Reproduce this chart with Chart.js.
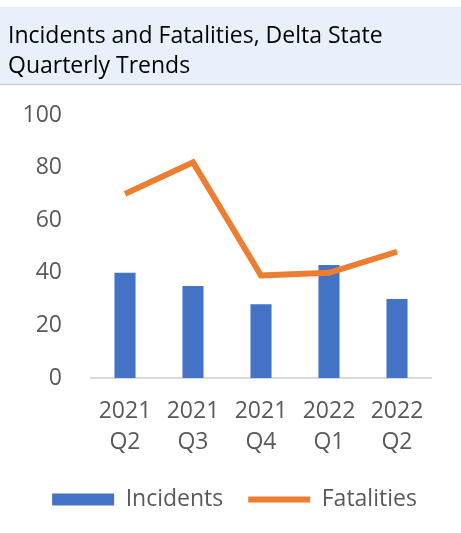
<!DOCTYPE html>
<html>
<head>
<meta charset="utf-8">
<script src="https://cdn.jsdelivr.net/npm/chart.js@4.4.1/dist/chart.umd.min.js"></script>
<style>
  html, body { margin: 0; padding: 0; background: #ffffff; }
  #wrap { position: relative; width: 461px; height: 533px; }
</style>
</head>
<body>
<div id="wrap"><canvas id="chart"></canvas></div>
<script>
// Quarterly incidents and fatalities, Delta State
const quarters = [['2021', 'Q2'], ['2021', 'Q3'], ['2021', 'Q4'], ['2022', 'Q1'], ['2022', 'Q2']];
const incidents = [40, 35, 28, 43, 30];
const fatalities = [70, 82, 39, 40, 48];
const titleLines = ['Incidents and Fatalities, Delta State', 'Quarterly Trends'];
const yTicks = { min: 0, max: 100, step: 20 };

const BLUE = '#4472C4';
const ORANGE = '#ED7D31';
const GREY_TEXT = '#595959';
const TICK_FONT = { family: '"Open Sans", sans-serif', size: 23, lineHeight: 1.35 };

// Light header band drawn behind the title
const headerBand = {
  id: 'headerBand',
  beforeDraw(chart) {
    const ctx = chart.ctx;
    ctx.save();
    ctx.fillStyle = '#E8F1FB';
    ctx.fillRect(0, 7, chart.width, 77);
    ctx.strokeStyle = '#D0D0D0';
    ctx.lineWidth = 1.5;
    ctx.beginPath();
    ctx.moveTo(0, 84.5);
    ctx.lineTo(chart.width, 84.5);
    ctx.stroke();
    ctx.restore();
  }
};

new Chart(document.getElementById('chart'), {
  data: {
    labels: quarters,
    datasets: [
      {
        type: 'bar',
        label: 'Incidents',
        data: incidents,
        backgroundColor: BLUE,
        borderColor: BLUE,
        borderWidth: 0,
        categoryPercentage: 1,
        barPercentage: 0.31,
        order: 2
      },
      {
        type: 'line',
        label: 'Fatalities',
        data: fatalities,
        borderColor: ORANGE,
        backgroundColor: ORANGE,
        borderWidth: 6,
        pointRadius: 0,
        tension: 0,
        borderCapStyle: 'butt',
        order: 1
      }
    ]
  },
  options: {
    responsive: true,
    maintainAspectRatio: false,
    animation: false,
    layout: { padding: { left: 8, right: 0, top: 0, bottom: 12 } },
    scales: {
      x: {
        grid: { display: false, drawTicks: false },
        border: { display: true, color: '#D9D9D9', width: 2 },
        ticks: { color: GREY_TEXT, font: TICK_FONT, padding: 18, maxRotation: 0, autoSkip: false },
        afterFit(scale) { scale.height = 85; }
      },
      y: {
        min: yTicks.min,
        max: yTicks.max,
        grid: { display: false, drawTicks: false },
        border: { display: false },
        ticks: { stepSize: yTicks.step, color: GREY_TEXT, font: TICK_FONT, padding: 29 },
        afterFit(scale) { scale.width = 83; }
      },
      yRight: {
        position: 'right',
        display: true,
        grid: { display: false, drawTicks: false },
        border: { display: false },
        ticks: { display: false },
        afterFit(scale) { scale.width = 30; }
      }
    },
    plugins: {
      title: {
        display: true,
        text: titleLines,
        align: 'start',
        color: '#000000',
        font: { family: '"Open Sans", sans-serif', size: 23, weight: 'normal', lineHeight: 1.304 },
        padding: { top: 21, bottom: 34 }
      },
      legend: {
        position: 'bottom',
        labels: {
          usePointStyle: true,
          pointStyleWidth: 62,
          boxHeight: 12,
          padding: 25,
          color: GREY_TEXT,
          font: { family: '"Open Sans", sans-serif', size: 23 },
          generateLabels(chart) {
            return chart.data.datasets.map((ds, i) => ({
              text: ds.label,
              datasetIndex: i,
              fillStyle: ds.backgroundColor,
              strokeStyle: ds.borderColor,
              lineWidth: ds.type === 'line' ? 6 : 0,
              pointStyle: ds.type === 'line' ? 'line' : 'rect',
              fontColor: GREY_TEXT,
              hidden: false
            }));
          }
        }
      },
      tooltip: { enabled: false }
    }
  },
  plugins: [headerBand]
});
</script>
</body>
</html>
